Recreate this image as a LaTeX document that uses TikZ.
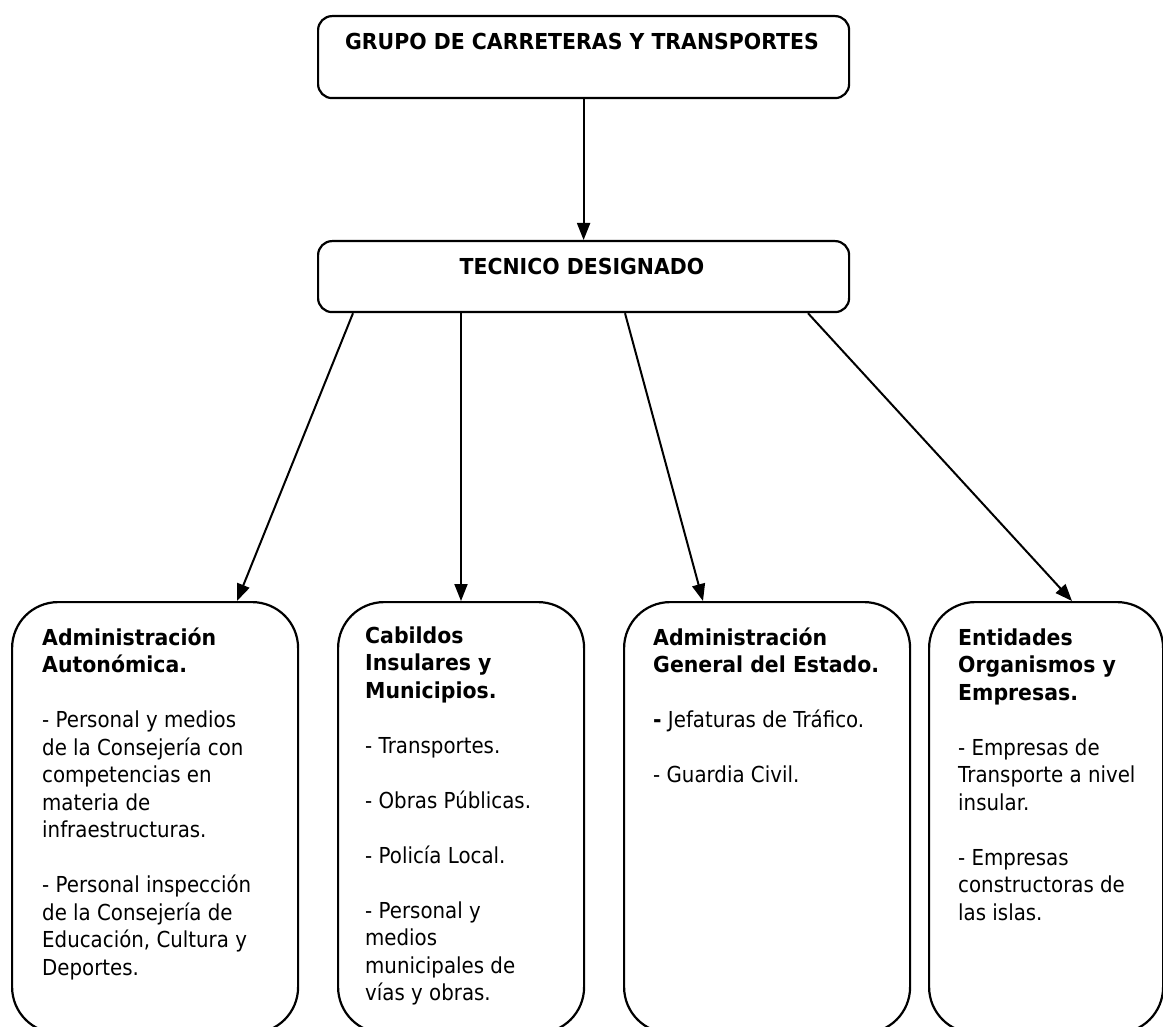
\documentclass[tikz,border=0pt]{standalone}
\usepackage{fontspec}
\setmainfont{DejaVu Sans}[FakeStretch=0.9, BoldFeatures={FakeStretch=0.93}]
\usetikzlibrary{arrows.meta}
\begin{document}
\begin{tikzpicture}[x=1pt,y=-1pt,
  topbox/.style={draw, line width=2.2pt, rounded corners=14pt, anchor=north west, inner sep=0pt, minimum width=531pt},
  bigbox/.style={draw, line width=2.2pt, rounded corners=46pt, anchor=north west, inner sep=0pt, minimum height=431pt},
  arr/.style={line width=2pt, -{Triangle[length=17pt,width=13pt]}},
  head/.style={anchor=base, inner sep=0pt, font=\fontsize{22}{27.5}\selectfont\bfseries},
  body/.style={anchor=base west, inner sep=0pt, font=\fontsize{22}{27.5}\selectfont}]
\useasboundingbox (0,0) rectangle (1163,1027);
\fill[white] (0,0) rectangle (1163,1027);
\clip (0,0) rectangle (1163,1027);

% top boxes
\node[topbox, minimum height=82pt] (g) at (317,15) {};
\node[head] (gl) at (582,50) {GRUPO DE CARRETERAS Y TRANSPORTES};
\node[topbox, minimum height=71pt] (t) at (317,240) {};
\node[head] (tl) at (582,275) {TECNICO DESIGNADO};

% bottom boxes
\node[bigbox, minimum width=286pt] (b1) at (11,601) {};
\node[bigbox, minimum width=246pt] (b2) at (337,601) {};
\node[bigbox, minimum width=286pt] (b3) at (623,601) {};
\node[bigbox, minimum width=234pt] (b4) at (928,601) {};

% texts
\node[body] (b1t) at (42,645) {\parbox[t]{250pt}{\raggedright
\textbf{Administración}\\
\textbf{Autonómica.}\\[27.5pt]
- Personal y medios\\
de la Consejería con\\
competencias en\\
materia de\\
infraestructuras.\\[27.5pt]
- Personal inspección\\
de la Consejería de\\
Educación, Cultura y\\
Deportes.}};

\node[body] (b2t) at (365,643) {\parbox[t]{215pt}{\raggedright
\textbf{Cabildos}\\
\textbf{Insulares y}\\
\textbf{Municipios.}\\[27.5pt]
- Transportes.\\[27.5pt]
- Obras Públicas.\\[27.5pt]
- Policía Local.\\[27.5pt]
- Personal y\\
medios\\
municipales de\\
vías y obras.}};

\node[body] (b3t) at (653,645) {\parbox[t]{250pt}{\raggedright
\textbf{Administración}\\
\textbf{General del Estado.}\\[27.5pt]
\textbf{-} Jefaturas de Tráfico.\\[27.5pt]
- Guardia Civil.}};

\node[body] (b4t) at (958,645) {\parbox[t]{200pt}{\raggedright
\textbf{Entidades}\\
\textbf{Organismos y}\\
\textbf{Empresas.}\\[27.5pt]
- Empresas de\\
Transporte a nivel\\
insular.\\[27.5pt]
- Empresas\\
constructoras de\\
las islas.}};

% connectors
\draw[arr] (g.south) -- (t.north);
\draw[arr] (t.south -| 353,0) -- (b1.north -| 237,0);
\draw[arr] (t.south -| 461,0) -- (b2.north -| 461,0);
\draw[arr] (t.south -| 625,0) -- (b3.north -| 703,0);
\draw[arr] (t.south -| 808,0) -- (b4.north -| 1072,0);
\end{tikzpicture}
\end{document}
